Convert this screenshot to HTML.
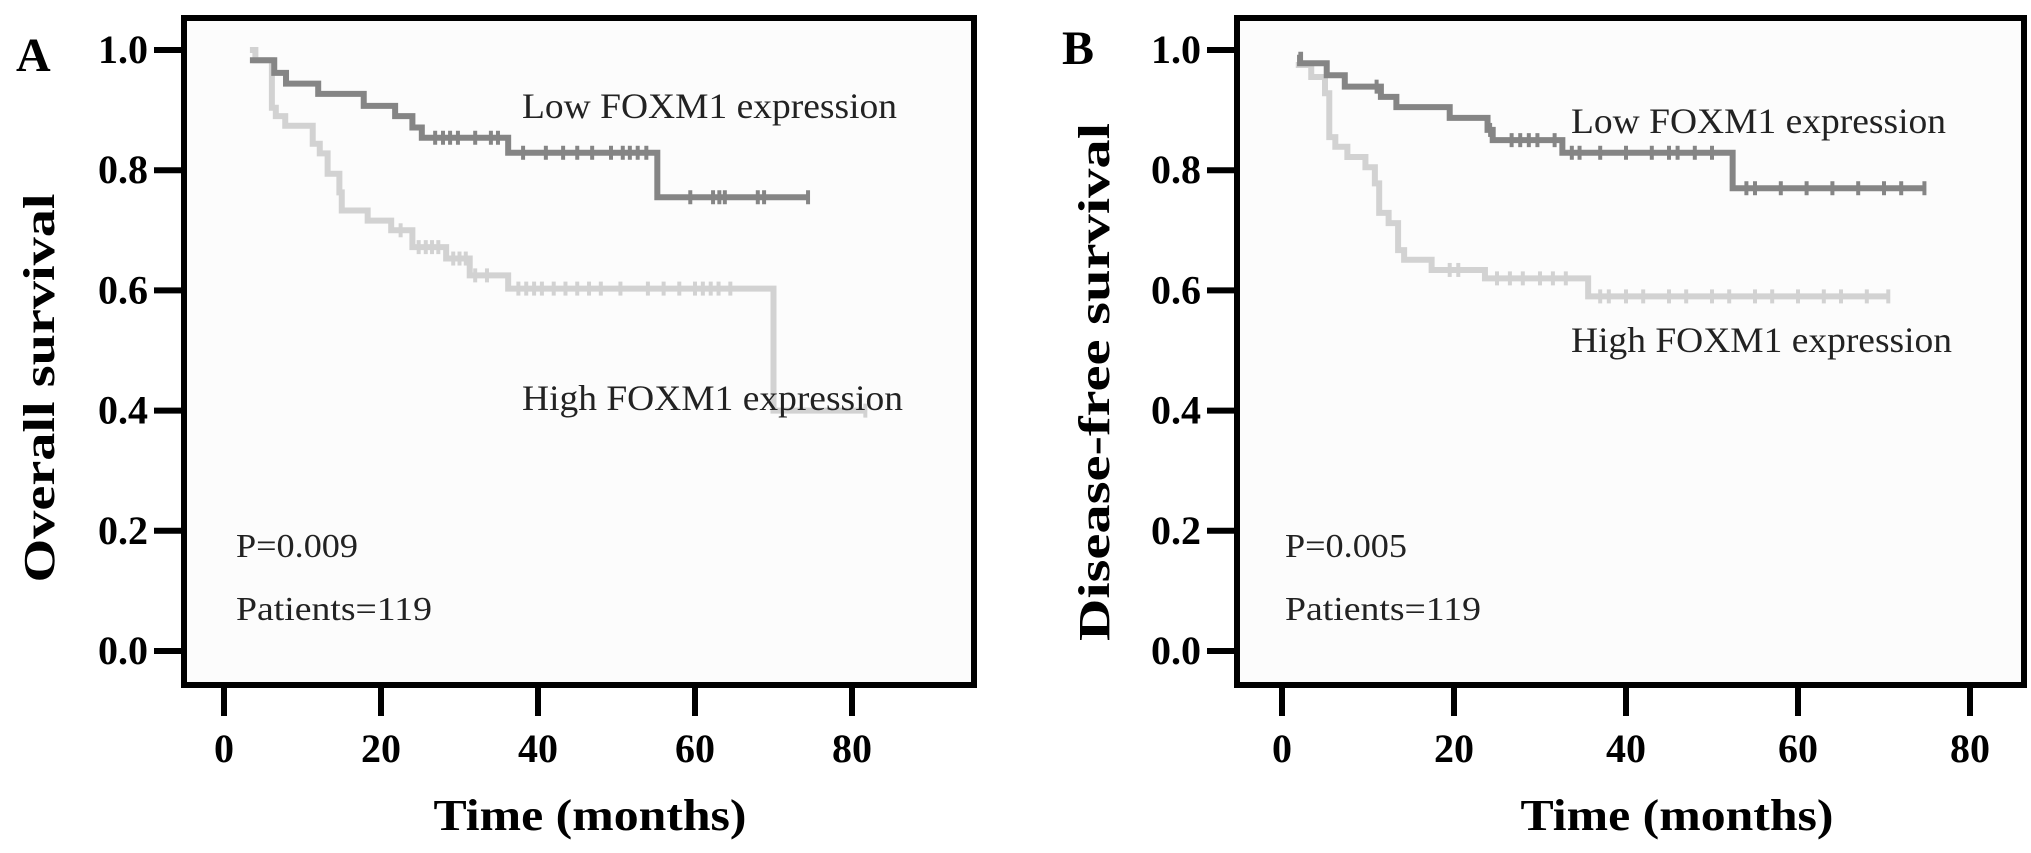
<!DOCTYPE html>
<html><head><meta charset="utf-8"><style>
html,body{margin:0;padding:0;background:#fff;}
svg{display:block;font-family:"Liberation Serif",serif;}
</style></head><body>
<svg id="c" width="2031" height="853" viewBox="0 0 2031 853" xmlns="http://www.w3.org/2000/svg"></svg>
<script>
// ---- Panel A: Overall survival ----
const xTicks = [0, 20, 40, 60, 80];
const yTicks = [0.0, 0.2, 0.4, 0.6, 0.8, 1.0];
const osLowT = [3.3, 6.4, 7.9, 12, 17.8, 21.8, 24, 25.2, 36.2, 55.2];
const osLowS = [0.983, 0.962, 0.944, 0.927, 0.907, 0.89, 0.871, 0.854, 0.829, 0.755];
const osLowEnd = 74.4;
const osLowCens = [26.9, 27.9, 28.8, 29.8, 32, 34, 34.9, 38.1, 41, 43.2, 45, 46.9, 49.3, 50.8, 51.7, 52.7, 53.8, 59.4, 62.3, 63.1, 63.8, 68, 68.8, 74.4];
const osHighT = [3.3, 4, 6.1, 6.6, 7.8, 11.3, 12.2, 13.2, 14.7, 15.0, 18.3, 21.3, 24, 28.3, 31.3, 36.2, 70];
const osHighS = [1.0, 0.983, 0.904, 0.89, 0.874, 0.844, 0.828, 0.794, 0.763, 0.733, 0.716, 0.70, 0.672, 0.653, 0.625, 0.603, 0.40];
const osHighEnd = 81.7;
const osHighCens = [22.5, 24.8, 25.7, 26.5, 27.3, 29.2, 30, 30.8, 32, 33.5, 37.5, 38.5, 39.5, 40.5, 42, 43.5, 45, 46.5, 48, 50.5, 54, 56, 58, 60, 61, 62, 63, 64.5, 81.7];
// ---- Panel B: Disease-free survival ----
const dfsLowT = [1.9, 2.1, 5.2, 7.3, 11.5, 13.3, 19.5, 23.9, 24.5, 32.6, 52.4];
const dfsLowS = [0.992, 0.978, 0.958, 0.939, 0.922, 0.905, 0.887, 0.867, 0.85, 0.829, 0.77];
const dfsLowEnd = 74.7;
const dfsLowCens = [11, 24.2, 26.7, 27.7, 28.7, 29.7, 31.7, 33.7, 34.6, 37, 40, 43, 45, 46, 48, 50, 54, 55, 58, 61, 64, 67, 70, 72, 74.7];
const dfsHighT = [1.6, 3.4, 5.0, 5.5, 6.2, 7.6, 9.7, 10.8, 11.3, 12.4, 13.5, 14.2, 17.4, 23.6, 35.6];
const dfsHighS = [0.975, 0.955, 0.928, 0.855, 0.839, 0.822, 0.805, 0.778, 0.729, 0.712, 0.667, 0.651, 0.634, 0.62, 0.59];
const dfsHighEnd = 70.5;
const dfsHighCens = [19.5, 20.5, 25, 26.5, 28, 30, 31.5, 33, 37, 38, 40, 42, 45, 47, 50, 52, 55, 57, 60, 63, 65, 68, 70.5];

const NS = "http://www.w3.org/2000/svg";
const svg = document.getElementById('c');
function mk(tag, attrs, parent, text) {
  const e = document.createElementNS(NS, tag);
  for (const k in attrs) e.setAttribute(k, attrs[k]);
  if (text !== undefined) e.textContent = text;
  (parent || svg).appendChild(e);
  return e;
}

function panel(cfg) {
  const g = mk('g', {});
  
  
  const X = t => cfg.x0 + cfg.px * t;
  const Y = s => cfg.y0 - 601 * s;
  const bg = mk('rect', {x: cfg.fl, y: 18, width: cfg.fr - cfg.fl, height: 667, fill: '#fcfcfc', stroke: '#000', 'stroke-width': 6}, g);
  
  
  const lt = mk('text', {x: cfg.letterX, y: cfg.letterY, 'font-size': 48, 'font-weight': 'bold'}, g, cfg.letter);
  
  
  yTicks.forEach(v => {
    const tk = mk('line', {x1: cfg.fl - 30, x2: cfg.fl, y1: Y(v), y2: Y(v), stroke: '#000', 'stroke-width': 6}, g);
    
    
    const tl = mk('text', {x: cfg.fl - 36, y: Y(v) + 13, 'font-size': 40, 'font-weight': 'bold', 'text-anchor': 'end', textLength: 50, lengthAdjust: 'spacingAndGlyphs'}, g, v.toFixed(1));
    
    
  });
  xTicks.forEach(v => {
    const tk = mk('line', {x1: X(v), x2: X(v), y1: 685, y2: 716, stroke: '#000', 'stroke-width': 6}, g);
    
    
    const tl = mk('text', {x: X(v), y: 762, 'font-size': 40, 'font-weight': 'bold', 'text-anchor': 'middle'}, g, String(v));
    
    
  });
  const xt = mk('text', {x: cfg.xtX, y: 830, 'font-size': 44, 'font-weight': 'bold', 'text-anchor': 'middle', textLength: 313, lengthAdjust: 'spacingAndGlyphs'}, g, 'Time (months)');
  
  
  const yt = mk('text', {x: 0, y: 0, 'font-size': 44, 'font-weight': 'bold', 'text-anchor': 'middle', textLength: cfg.ytLen, lengthAdjust: 'spacingAndGlyphs', transform: `translate(${cfg.ytX},${cfg.ytY}) rotate(-90)`}, g, cfg.ytText);
  
  

  function curve(T, S, end, cens, color, name) {
    let d = `M${X(T[0])},${Y(S[0])}`;
    for (let i = 1; i < T.length; i++) {
      d += ` H${X(T[i])} V${Y(S[i])}`;
    }
    d += ` H${X(end)}`;
    const p = mk('path', {d: d, fill: 'none', stroke: color, 'stroke-width': 6}, g);
    
    
    cens.forEach(c => {
      let s = S[0];
      for (let i = 0; i < T.length; i++) if (T[i] <= c) s = S[i];
      const m = mk('line', {x1: X(c), x2: X(c), y1: Y(s) - 7, y2: Y(s) + 7, stroke: color, 'stroke-width': 4}, g);
      
      
    });
  }
  curve(cfg.hT, cfg.hS, cfg.hE, cfg.hC, '#d2d2d2', 'high-foxm1-curve');
  curve(cfg.lT, cfg.lS, cfg.lE, cfg.lC, '#858585', 'low-foxm1-curve');

  const l1 = mk('text', {x: cfg.lowX, y: cfg.lowY, 'font-size': 36, fill: '#222', textLength: 375, lengthAdjust: 'spacingAndGlyphs'}, g, 'Low FOXM1 expression');
  
  
  const l2 = mk('text', {x: cfg.highX, y: cfg.highY, 'font-size': 36, fill: '#222', textLength: 381, lengthAdjust: 'spacingAndGlyphs'}, g, 'High FOXM1 expression');
  
  
  const p1 = mk('text', {x: cfg.pX, y: 557, 'font-size': 34, fill: '#222', textLength: 122, lengthAdjust: 'spacingAndGlyphs'}, g, cfg.pText);
  
  
  const p2 = mk('text', {x: cfg.pX, y: 620, 'font-size': 34, fill: '#222', textLength: 196, lengthAdjust: 'spacingAndGlyphs'}, g, 'Patients=119');
  
  
}

panel({name: 'panel-a-overall-survival', x0: 224, px: 7.85, y0: 651, fl: 184, fr: 974,
  letter: 'A', letterX: 16, letterY: 71, xtX: 590, ytText: 'Overall survival', ytX: 54, ytY: 388, ytLen: 389,
  lT: osLowT, lS: osLowS, lE: osLowEnd, lC: osLowCens, hT: osHighT, hS: osHighS, hE: osHighEnd, hC: osHighCens,
  lowX: 522, lowY: 118, highX: 522, highY: 410, pX: 236, pText: 'P=0.009'});
panel({name: 'panel-b-disease-free-survival', x0: 1282, px: 8.6, y0: 651, fl: 1237, fr: 2024,
  letter: 'B', letterX: 1062, letterY: 64, xtX: 1677, ytText: 'Disease-free survival', ytX: 1109, ytY: 382, ytLen: 518,
  lT: dfsLowT, lS: dfsLowS, lE: dfsLowEnd, lC: dfsLowCens, hT: dfsHighT, hS: dfsHighS, hE: dfsHighEnd, hC: dfsHighCens,
  lowX: 1571, lowY: 133, highX: 1571, highY: 352, pX: 1285, pText: 'P=0.005'});
</script>
</body></html>
